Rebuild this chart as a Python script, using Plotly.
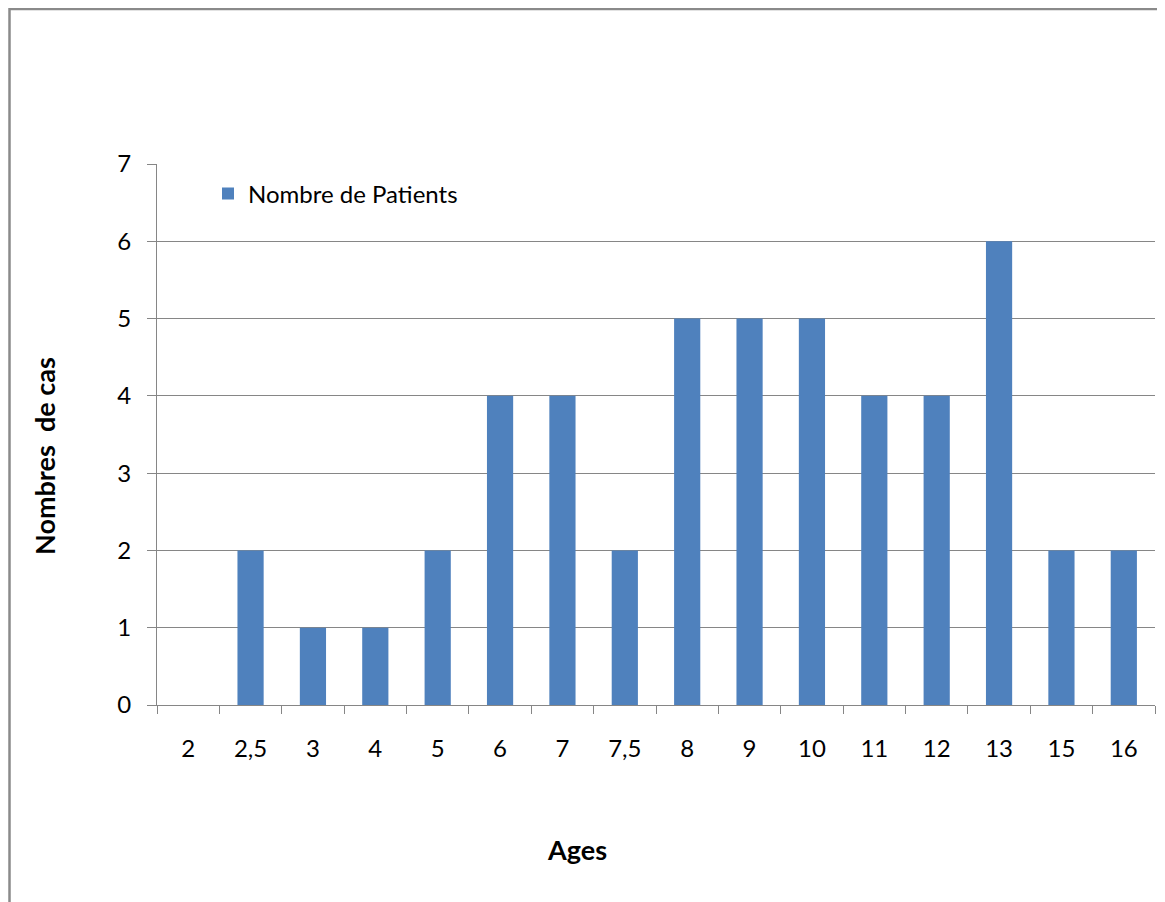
import plotly.graph_objects as go

ages = ["2", "2,5", "3", "4", "5", "6", "7", "7,5", "8", "9", "10", "11", "12", "13", "15", "16"]
patients = [0, 2, 1, 1, 2, 4, 4, 2, 5, 5, 5, 4, 4, 6, 2, 2]
y_ticks = [0, 1, 2, 3, 4, 5, 6, 7]

# the page adds an 8 px body margin, so the figure is sized and placed to compensate
OFF = 8
W, H = 1165 - OFF, 902 - OFF
L, R, T, B = 157 - OFF, 10, 164 - OFF, 197
pw, ph = W - L - R, H - T - B

def px(x):
    return (x - OFF - L) / pw

def py(y):
    return (H - B - (y - OFF)) / ph

FONT = "Lato, 'Open Sans', sans-serif"
GRID = "#868686"

fig = go.Figure()
fig.add_trace(go.Bar(
    x=ages, y=patients, name="Nombre de Patients",
    marker=dict(color="#4F81BD", line=dict(width=0)),
    showlegend=True,
))

fig.update_layout(
    width=W, height=H,
    margin=dict(l=L, r=R, t=T, b=B),
    paper_bgcolor="white", plot_bgcolor="white",
    font=dict(family=FONT, size=24, color="black"),
    bargap=0.58,
    showlegend=True,
    legend=dict(x=px(208), y=py(194), xanchor="left", yanchor="middle",
                bgcolor="rgba(0,0,0,0)", font=dict(size=24),
                itemwidth=30),
    xaxis=dict(
        type="category", showgrid=False, showline=True, linecolor=GRID, linewidth=1,
        ticks="outside", tickson="boundaries", ticklen=8, tickcolor=GRID,
        ticklabelstandoff=22, tickfont=dict(size=24),
    ),
    yaxis=dict(
        range=[0, 7], tickvals=y_ticks, showgrid=True, gridcolor=GRID, gridwidth=1,
        showline=True, linecolor=GRID, linewidth=1, zeroline=False,
        ticks="outside", ticklen=9, tickcolor=GRID, ticklabelstandoff=11,
        tickfont=dict(size=24),
    ),
    annotations=[
        dict(text="<b>Ages</b>", x=px(577), y=py(849), xref="paper", yref="paper",
             showarrow=False, font=dict(size=27), xanchor="center", yanchor="middle"),
        dict(text="<b>Nombres  de cas</b>", x=px(44), y=py(456), xref="paper", yref="paper",
             showarrow=False, font=dict(size=27), textangle=-90,
             xanchor="center", yanchor="middle"),
    ],
    shapes=[
        dict(type="line", xref="paper", yref="paper", x0=px(9.5), x1=px(9.5), y0=py(7), y1=py(910),
             line=dict(color="#8a8a8a", width=2.5)),
        dict(type="line", xref="paper", yref="paper", x0=px(9), x1=px(1170), y0=py(9), y1=py(9),
             line=dict(color="#8a8a8a", width=2.5)),
    ],
)

fig.write_html("out.html")
